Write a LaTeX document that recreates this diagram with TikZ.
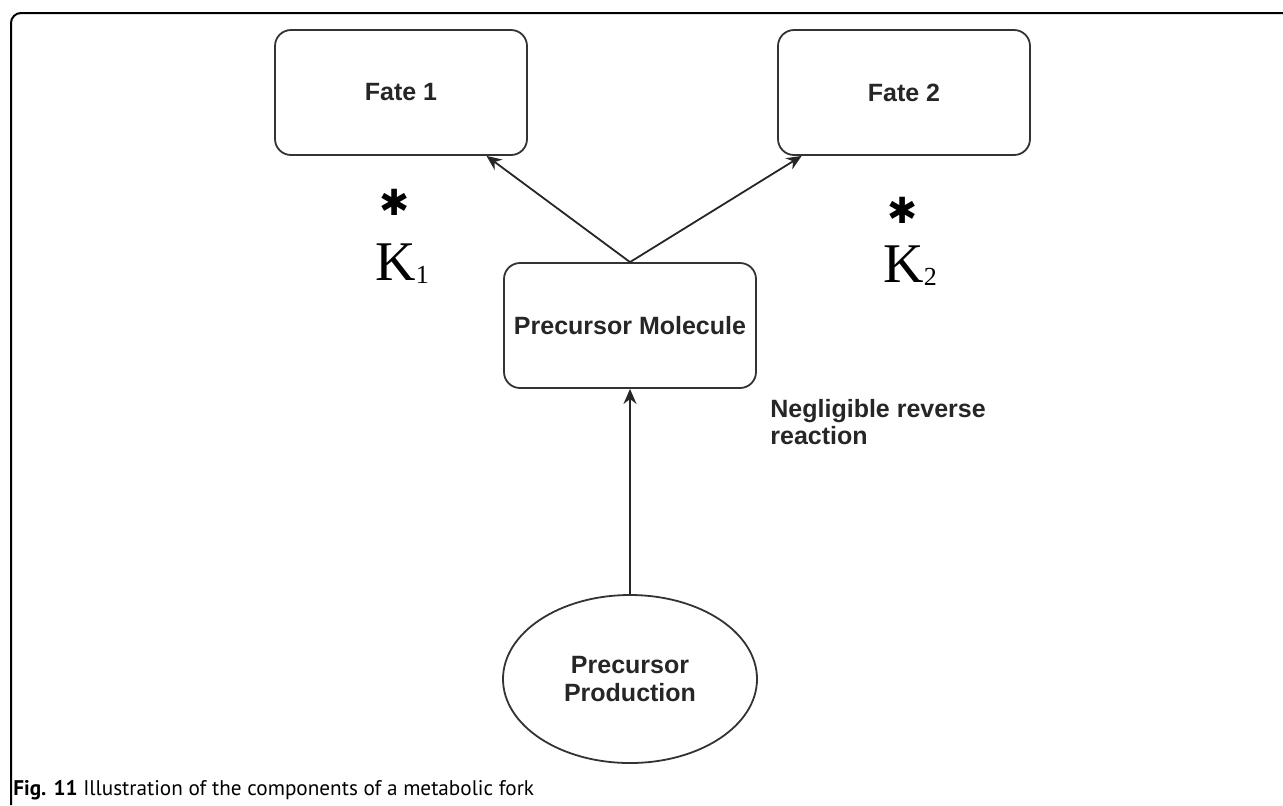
\documentclass[tikz,border=0pt]{standalone}
\usepackage{fontspec}
\setmainfont{Liberation Sans}
\newfontfamily\kfont{Liberation Serif}
\newfontfamily\capfont{PT Sans}
\newfontfamily\starfont{DejaVu Sans}
\usetikzlibrary{arrows.meta,shapes.geometric}
\tikzstyle{es} = [-{Stealth[length=7.5pt,width=6.5pt]}, line width=0.9pt, draw=black!85]
\tikzstyle{statebox} = [draw=black!80, line width=0.9pt, rounded corners=8pt, minimum width=126pt, minimum height=62.5pt, inner sep=0pt, text=black!85, font=\fontsize{12.5}{14}\selectfont\bfseries]
\tikzstyle{sourcenode} = [draw=black!80, line width=0.9pt, ellipse, minimum width=127pt, minimum height=84pt, inner sep=0pt, align=center, text=black!85, font=\fontsize{12.5}{14}\selectfont\bfseries]
\newcommand{\rate}[1]{{\kfont\fontsize{28}{28}\selectfont K}\raisebox{-1.5pt}{\kfont\fontsize{13}{13}\selectfont #1}}

\begin{document}
\begin{tikzpicture}[yscale=-1]
			\useasboundingbox (0pt,0pt) rectangle (641.5pt,402.5pt);
			% frame of the figure
			\draw[line width=1pt, rounded corners=5pt] (5.5pt,402.5pt) -- (5.5pt,6.5pt) -- (641.5pt,6.5pt);
			\node[statebox] (fate1) at (200.5pt,46.25pt) {Fate 1};
			\node[statebox] (fate2) at (452pt,46.25pt) {Fate 2};
			\node[statebox] (mol) at (315pt,162.75pt) {Precursor Molecule};
			\node[sourcenode] (prod) at (315pt,339.5pt) {Precursor\\Production};
			\draw[es] (mol.north) -- (fate1);
			\draw[es] (mol.north) -- (fate2);
			\draw[es] (prod) -- (mol);
			% rate constants
			\node (star1) at (197.5pt,101pt) {\starfont\fontsize{18}{18}\selectfont ✱};
			\node (star2) at (451.5pt,105pt) {\starfont\fontsize{18}{18}\selectfont ✱};
			\node (k1) at (187.5pt,140pt)[anchor=base west, inner sep=0pt]{\rate{1}};
			\node (k2) at (441.5pt,141pt)[anchor=base west, inner sep=0pt]{\rate{2}};
			\node (note) at (385pt,222pt)[anchor=base west, inner sep=0pt, align=left, text=black!85, font=\fontsize{12.5}{13.5}\selectfont\bfseries]{Negligible reverse\\reaction};
			\node (cap) at (6.5pt,397.5pt)[anchor=base west, inner sep=0pt, font=\capfont\fontsize{10.6}{12}\selectfont]{\textbf{Fig. 11} Illustration of the components of a metabolic fork};
		\end{tikzpicture}
\end{document}
